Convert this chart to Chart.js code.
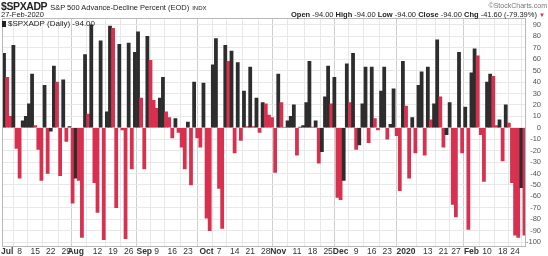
<!DOCTYPE html>
<html>
<head>
<meta charset="utf-8">
<script src="https://cdn.jsdelivr.net/npm/chart.js@4"></script>
<style>
  html, body { margin: 0; padding: 0; background: #fff; }
  #wrap { position: relative; width: 548px; height: 256px; font-family: "Liberation Sans", Arial, sans-serif; color: #222; }
  #wrap .t { position: absolute; white-space: nowrap; line-height: 1; }
  .icon { display: inline-block; width: 4px; height: 6px; background: #222; margin-right: 2px; vertical-align: -1px; }
</style>
</head>
<body>
<div id="wrap">
  <canvas id="chart" width="548" height="256"></canvas>
  <div class="t" style="left:1px;top:1px;font-size:10.5px;"><b style="letter-spacing:-0.4px;">$SPXADP</b> <span style="font-size:7.5px;">S&amp;P 500 Advance-Decline Percent (EOD)</span> <span style="font-size:6px;">INDX</span></div>
  <div class="t" style="left:1px;top:11px;font-size:7.5px;">27-Feb-2020</div>
  <div class="t" style="right:1px;top:2px;font-size:7px;color:#777;">©StockCharts.com</div>
  <div class="t" style="right:3px;top:11px;font-size:7.5px;"><b>Open</b> -94.00 <b>High</b> -94.00 <b>Low</b> -94.00 <b>Close</b> -94.00 <b>Chg</b> -41.60 (-79.39%) <span style="color:#d8304f;font-size:6px;">▼</span></div>
  <div class="t" style="left:2px;top:20px;font-size:8px;"><span class="icon"></span>$SPXADP (Daily) -94.00</div>
</div>
<script>
// trading days shown, Jun 28 2019 .. Feb 27 2020
const months = ['Jun', 'Jul', 'Aug', 'Sep', 'Oct', 'Nov', 'Dec', 'Jan', 'Feb'];
const monthDays = [
    [28],
    [1, 2, 3, 5, 8, 9, 10, 11, 12, 15, 16, 17, 18, 19, 22, 23, 24, 25, 26, 29, 30, 31],
    [1, 2, 5, 6, 7, 8, 9, 12, 13, 14, 15, 16, 19, 20, 21, 22, 23, 26, 27, 28, 29, 30],
    [3, 4, 5, 6, 9, 10, 11, 12, 13, 16, 17, 18, 19, 20, 23, 24, 25, 26, 27, 30],
    [1, 2, 3, 4, 7, 8, 9, 10, 11, 14, 15, 16, 17, 18, 21, 22, 23, 24, 25, 28, 29, 30, 31],
    [1, 4, 5, 6, 7, 8, 11, 12, 13, 14, 15, 18, 19, 20, 21, 22, 25, 26, 27, 29],
    [2, 3, 4, 5, 6, 9, 10, 11, 12, 13, 16, 17, 18, 19, 20, 23, 24, 26, 27, 30, 31],
    [2, 3, 6, 7, 8, 9, 10, 13, 14, 15, 16, 17, 21, 22, 23, 24, 27, 28, 29, 30, 31],
    [3, 4, 5, 6, 7, 10, 11, 12, 13, 14, 18, 19, 20, 21, 24, 25, 26, 27]
];

// daily advance-decline percent
const advDecl = [
    65,
    44, 10, 72, -18, -44, 6, 10, 21, 47, 2, -19, -46, 37, -40, -3, 54, 40, -42, 42, -12, 1, -66,
    -44, -46, -96, 64, 12, 90, -48, -74, 76, -98, 14, 89, 87, -70, 73, -2, -97, 74, -36, 66, 84, 26,
    -36, 80, 59, 24, 17, 26, 44, 14, 9, -9, 8, -4, -17, -36, 5, -50, 40, -9, -17, 39,
    -79, -90, 55, 78, -53, -88, 72, 58, 67, -22, 57, -11, 32, 1, 53, 1, 26, -4, 22, 21, 11, 9, -39,
    47, 22, 0, 6, 10, 20, -24, 0.5, 2, 22, 58, 0.5, 6, -31, -21, 27, 54, 21, 44, -61,
    -63, -46, 56, 22, 65, -19, -15, 21, 53, -13, 53, 8, -2, 32, 53, -10, 3, 34, -7, -55, 58,
    19, -44, 9, -22, 37, 49, -24, 53, 7, 21, 77, 27, -17, -6, 22, -67, -78, 66, -22, 18, -89,
    48, 69, 63, -6, -47, 40, 47, 45, 2, 7, -29, 20, 4, -48, -94, -96, -52.4, -94
];

const tickDates = ['Jul 1', 'Jul 8', 'Jul 15', 'Jul 22', 'Jul 29', 'Aug 1', 'Aug 12', 'Aug 19', 'Aug 26',
    'Sep 3', 'Sep 9', 'Sep 16', 'Sep 23', 'Oct 1', 'Oct 7', 'Oct 14', 'Oct 21', 'Oct 28',
    'Nov 1', 'Nov 11', 'Nov 18', 'Nov 25', 'Dec 2', 'Dec 9', 'Dec 16', 'Dec 23',
    'Jan 2', 'Jan 13', 'Jan 21', 'Jan 27', 'Feb 3', 'Feb 10', 'Feb 18', 'Feb 24'];
const tickNames = ['Jul', '8', '15', '22', '29', 'Aug', '12', '19', '26',
    'Sep', '9', '16', '23', 'Oct', '7', '14', '21', '28',
    'Nov', '11', '18', '25', 'Dec', '9', '16', '23',
    '2020', '13', '21', '27', 'Feb', '10', '18', '24'];
const monthNames = ['Jul', 'Aug', 'Sep', 'Oct', 'Nov', 'Dec', '2020', 'Feb'];

const yTicks = [90, 80, 70, 60, 50, 40, 30, 20, 10, 0, -10, -20, -30, -40, -50, -60, -70, -80, -90, -100];

const dates = months.flatMap((m, i) => monthDays[i].map(d => m + ' ' + d));

// black when up from previous day, red when down
const barColors = advDecl.map((v, i) => (i === 0 || v >= advDecl[i - 1]) ? '#2d2d2d' : '#d8304f');

function tickName(index) {
    const k = tickDates.indexOf(dates[index]);
    return k < 0 ? null : tickNames[k];
}

function isMonth(ctx) {
    return !!(ctx.tick && monthNames.includes(tickName(ctx.tick.value)));
}

const frame = {
    id: 'frame',
    afterDraw(chart) {
        const a = chart.chartArea;
        const ctx = chart.ctx;
        ctx.save();
        ctx.strokeStyle = '#b8b8b8';
        ctx.lineWidth = 1;
        ctx.strokeRect(Math.round(a.left) + 0.5, Math.round(a.top) + 0.5,
            Math.round(a.right - a.left) - 1, Math.round(a.bottom - a.top));
        ctx.restore();
    }
};

new Chart(document.getElementById('chart'), {
    type: 'bar',
    data: {
        labels: dates,
        datasets: [{
            data: advDecl,
            backgroundColor: barColors,
            borderWidth: 0,
            barPercentage: 1,
            categoryPercentage: 1
        }]
    },
    options: {
        responsive: false,
        animation: false,
        devicePixelRatio: 1,
        layout: { padding: { top: 18, right: 7, left: 0, bottom: 0 } },
        plugins: { legend: { display: false }, tooltip: { enabled: false } },
        scales: {
            x: {
                grid: {
                    offset: true,
                    drawTicks: false,
                    color: ctx => isMonth(ctx) ? '#cfcfcf' : '#e8e8e8'
                },
                border: { display: false },
                ticks: {
                    autoSkip: false,
                    maxRotation: 0,
                    padding: 1,
                    color: '#333',
                    font: ctx => ({
                        family: 'Liberation Sans',
                        size: 8.5,
                        weight: isMonth(ctx) ? 'bold' : 'normal'
                    }),
                    callback: (value, index) => tickName(index)
                },
                afterFit: scale => { scale.height = 10.5; }
            },
            y: {
                position: 'right',
                min: -103,
                max: 96,
                grid: { color: '#e8e8e8', drawTicks: false },
                border: { display: false },
                afterBuildTicks: scale => { scale.ticks = yTicks.map(v => ({ value: v })); },
                ticks: {
                    autoSkip: false,
                    crossAlign: 'far',
                    padding: 2,
                    color: '#555',
                    font: { family: 'Liberation Sans', size: 7.5 },
                    callback: v => String(v)
                },
                afterFit: scale => { scale.width = 15; }
            }
        }
    },
    plugins: [frame]
});
</script>
</body>
</html>
